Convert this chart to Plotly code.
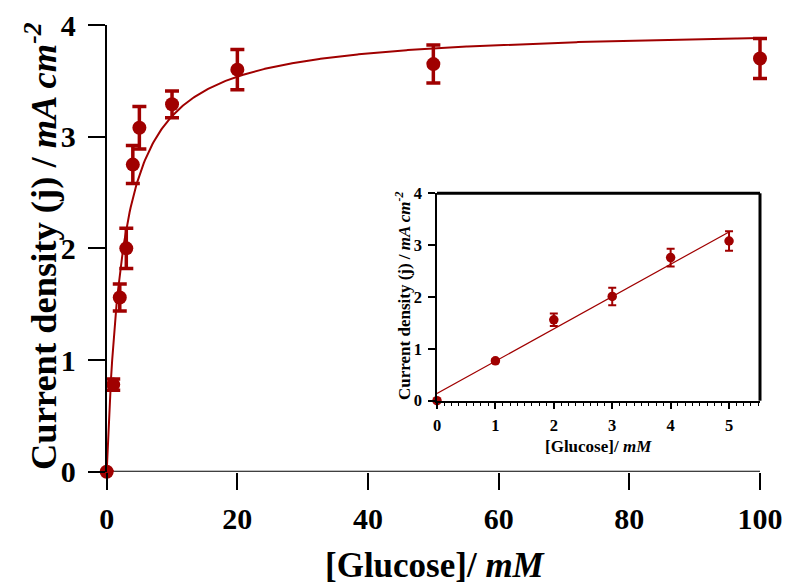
import numpy as np
import plotly.graph_objects as go

# ---------------- data ----------------
glucose_mM = [0, 1, 2, 3, 4, 5, 10, 20, 50, 100]
current_j = [0, 0.78, 1.56, 2.00, 2.75, 3.08, 3.29, 3.60, 3.65, 3.70]
current_err = [0, 0.05, 0.12, 0.18, 0.17, 0.19, 0.12, 0.18, 0.17, 0.18]

# Michaelis-Menten fit parameters (main curve)
JMAX = 3.98
KM = 2.5

inset_glucose = [0, 1, 2, 3, 4, 5]
inset_j = [0, 0.77, 1.56, 2.01, 2.76, 3.08]
inset_err = [0, 0.03, 0.12, 0.17, 0.17, 0.19]

# linear fit parameters (inset line)
SLOPE = 0.6235
INTERCEPT = 0.138

main_xticks = [0, 20, 40, 60, 80, 100]
main_yticks = [0, 1, 2, 3, 4]
inset_xticks = [0, 1, 2, 3, 4, 5]
inset_yticks = [0, 1, 2, 3, 4]

X_MAX = 100
X_PAD = 2.5  # extra room so error caps at x=100 are not clipped

RED = "#A00000"
FONT = "Liberation Serif"

W, H = 787, 584

# plot area positions (pixels -> paper)
px0, px100 = 106.7, 760.0
scale = (px100 - px0) / X_MAX
mx0, mx1 = px0 / W, (px100 + X_PAD * scale) / W
my0, my1 = (H - 471.7) / H, (H - 25) / H
ix0, ix1 = 437 / W, 760 / W
iy0, iy1 = (H - 400.7) / H, (H - 193.3) / H

fig = go.Figure()

# main fit curve
xf = np.linspace(0, X_MAX, 600)
fig.add_trace(go.Scatter(x=xf, y=JMAX * xf / (KM + xf), mode="lines",
                         line=dict(color=RED, width=2), xaxis="x", yaxis="y",
                         hoverinfo="skip", showlegend=False))
# main data
fig.add_trace(go.Scatter(x=glucose_mM, y=current_j, mode="markers",
                         marker=dict(color=RED, size=14),
                         error_y=dict(type="data", array=current_err, color=RED,
                                      thickness=3.5, width=7),
                         cliponaxis=False, xaxis="x", yaxis="y", showlegend=False))

# inset fit line
xl = np.array([inset_glucose[0], inset_glucose[-1]])
fig.add_trace(go.Scatter(x=xl, y=SLOPE * xl + INTERCEPT, mode="lines",
                         line=dict(color=RED, width=1.2), xaxis="x2", yaxis="y2",
                         hoverinfo="skip", showlegend=False))
fig.add_trace(go.Scatter(x=inset_glucose, y=inset_j, mode="markers",
                         marker=dict(color=RED, size=9.5),
                         error_y=dict(type="data", array=inset_err, color=RED,
                                      thickness=2, width=4),
                         cliponaxis=False, xaxis="x2", yaxis="y2", showlegend=False))

tickfont_main = dict(family=FONT, size=30, color="black", weight="bold")
tickfont_in = dict(family=FONT, size=16.5, color="black", weight="bold")

fig.update_layout(
    width=W, height=H,
    margin=dict(l=0, r=0, t=0, b=0, autoexpand=False),
    paper_bgcolor="white", plot_bgcolor="rgba(0,0,0,0)",
    showlegend=False,
    xaxis=dict(domain=[mx0, mx1], range=[0, X_MAX + X_PAD], tickvals=main_xticks,
               showline=False,
               ticks="outside", ticklen=17, tickwidth=2, tickcolor="black",
               tickfont=tickfont_main, showgrid=False, zeroline=False,
               anchor="y", ticklabelstandoff=3, automargin=False),
    yaxis=dict(domain=[my0, my1], range=[0, 4], tickvals=main_yticks,
               showline=True, linecolor="black", linewidth=2,
               ticks="outside", ticklen=17, tickwidth=2, tickcolor="black",
               tickfont=tickfont_main, showgrid=False, zeroline=False,
               anchor="x", ticklabelstandoff=6, automargin=False),
    xaxis2=dict(domain=[ix0, ix1], range=[0, 5.53], tickvals=inset_xticks,
                showline=True, linecolor="black", linewidth=1.6,
                ticks="outside", ticklen=6, tickwidth=1.5, tickcolor="black",
                minor=dict(ticks="outside", dtick=0.125, ticklen=3, tickwidth=1,
                           tickcolor="black"),
                tickfont=tickfont_in, showgrid=False, zeroline=False,
                anchor="y2", ticklabelstandoff=3, automargin=False),
    yaxis2=dict(domain=[iy0, iy1], range=[0, 4], tickvals=inset_yticks,
                showline=True, linecolor="black", linewidth=1.6,
                ticks="outside", ticklen=7, tickwidth=1.5, tickcolor="black",
                tickfont=tickfont_in, showgrid=False, zeroline=False,
                anchor="x2", ticklabelstandoff=3, automargin=False),
)

# main x axis line, ending at the last tick
fig.add_shape(type="line", xref="x", yref="y", x0=0, x1=X_MAX, y0=0, y1=0,
              line=dict(color="black", width=2), layer="below")

# inset top/right thick border
fig.add_shape(type="line", xref="x2 domain", yref="y2 domain", x0=0, x1=1, y0=1, y1=1,
              line=dict(color="black", width=3))
fig.add_shape(type="line", xref="x2 domain", yref="y2 domain", x0=1, x1=1, y0=0, y1=1,
              line=dict(color="black", width=3))

# axis titles
fig.add_annotation(text="[Glucose]/ <i>mM</i>", xref="paper", yref="paper",
                   x=435 / W, y=(H - 565) / H, showarrow=False,
                   font=dict(family=FONT, size=35, color="black", weight="bold"),
                   xanchor="center", yanchor="middle")
fig.add_annotation(text="Current density (j) / <i>mA cm<sup>-2</sup></i>", xref="paper",
                   yref="paper", x=41 / W, y=(H - 246) / H, showarrow=False, textangle=-90,
                   font=dict(family=FONT, size=36.5, color="black", weight="bold"),
                   xanchor="center", yanchor="middle")
fig.add_annotation(text="[Glucose]/ <i>mM</i>", xref="paper", yref="paper",
                   x=598 / W, y=(H - 446) / H, showarrow=False,
                   font=dict(family=FONT, size=17, color="black", weight="bold"),
                   xanchor="center", yanchor="middle")
fig.add_annotation(text="Current density (j) / <i>mA cm<sup>-2</sup></i>", xref="paper",
                   yref="paper", x=403 / W, y=(H - 296) / H, showarrow=False, textangle=-90,
                   font=dict(family=FONT, size=17, color="black", weight="bold"),
                   xanchor="center", yanchor="middle")

fig.write_html("out.html")
